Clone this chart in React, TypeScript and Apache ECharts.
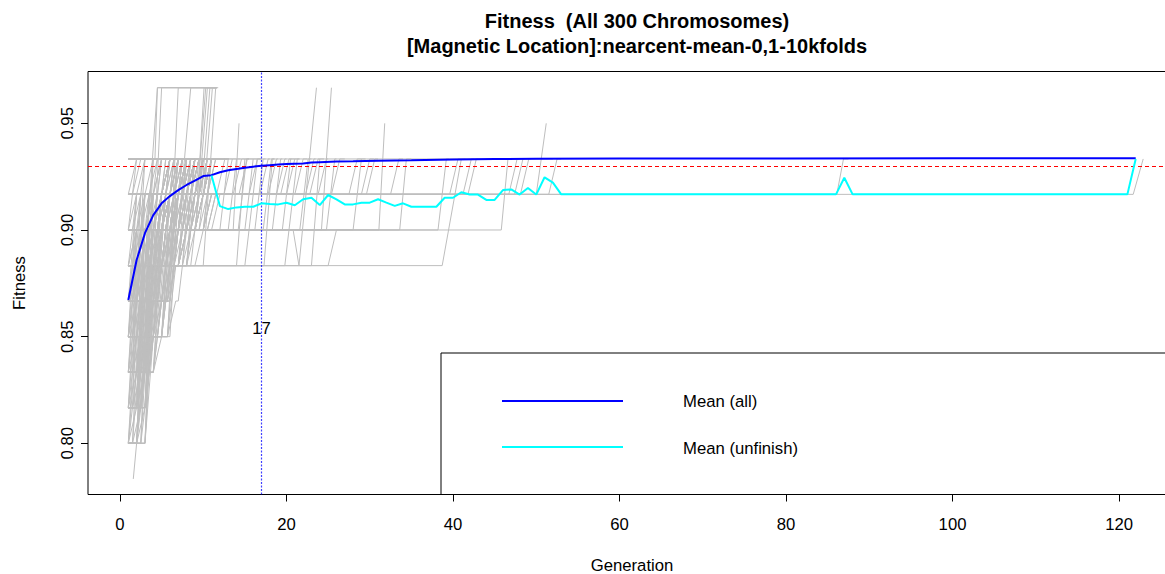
import React, { useEffect, useRef } from "react";
import * as echarts from "echarts";

const FONT = "'Liberation Sans', Arial, Helvetica, sans-serif";

const TITLE_LINES = ["Fitness  (All 300 Chromosomes)", "[Magnetic Location]:nearcent-mean-0,1-10kfolds"];
const X_NAME = "Generation";
const Y_NAME = "Fitness";
const X_TICKS = [0, 20, 40, 60, 80, 100, 120];
const Y_TICKS = [0.8, 0.85, 0.9, 0.95];
const X_RANGE = [-3.84, 126.84];
const Y_RANGE = [0.776, 0.9743];
const THRESHOLD = 0.93;
const MARK_GEN = 17;
const MARK_LABEL_Y = 0.8536;
const LEGEND_NAMES = ["Mean (all)", "Mean (unfinish)"];

// fitness levels observed in the chromosome traces
const LEVELS: Record<string, number> = {
  a: 0.7833, b: 0.8, c: 0.8167, d: 0.8333, e: 0.85, f: 0.8667,
  g: 0.8833, h: 0.9, i: 0.9167, j: 0.9333, k: 0.95, l: 0.9667,
};

// each chromosome: "gen+level" change points (optional /width of the jump), last bare number = end generation
const CHROMOSOMES: string[] = [
  "1.6a 3.2e/1.6 6h 9j 12",
  "1b 3e 5h 8j 12", "1b 2d 4f 6i 12", "1b 3f 6h 9j 11", "1b 4g 6i 10.3l 11.6", "1b 3h 5j 12",
  "1b 2e 4g 7i 10j 13", "1b 4e 6h 9i 12", "1b 3g 7j 11",
  "1b 2c 3e 5g 8i 12", "1b 3d 4g 6h 9j 12", "1b 2f 3h 6i 10j 12", "1b 4f 5h 8i 11", "1b 3c 4e 6g 9i 12",
  "1b 4h 7j 12",
  "1b 2.5e 4.5h 7.5j 12", "1b 3.5f 5.5i 9.5j 12", "1b 2.5g 5.5i 11", "1b 3.5d 4.5g 8.5j 12", "1b 2.5c 3.5f 6.5i 12", "1b 3.5h 6.5j 12",
  "1c 3e 5h 8j 12", "1c 2f 5i 9j 12", "1c 4h 6j 11", "1c 3g 4.5l/1.5 11.6", "1c 4f 6h 10i 12",
  "1c 2d 4g 8j 12", "1c 3h 6i 9j 13", "1c 4e 7i 11",
  "1c 2e 4h 7j 12", "1c 3d 5f 7h 10i 12", "1c 4g 5i 8j 12", "1c 2g 4h 6i 9j 12", "1c 3f 4h 7i 11",
  "1c 3i 6j 12", "1c 4i 9j 12",
  "1c 2.5e 4.5g 6.5i 10.5j 12", "1c 3.5f 5.5h 8.5j 12", "1c 2.5h 5.5j 11", "1c 3.5g 6.5i 12", "1c 2.5d 3.5f 5.5h 9.5i 12", "1c 3.5e 4.5h 7.5j 13",
  "1d 5g 8i 11j 12", "1d 3f 5h 7j 12", "1d 2e 4g 6i 9j 12", "1d 4g 5l 11.6", "1d 5h 8j 12",
  "1d 3e 6i 10j 12", "1d 4f 6g 9i 12", "1d 2g 5i 8j 11", "1d 5f 7h 10j 13", "1d 3g 6h 9i 11",
  "1d 2f 4h 6i 10j 12", "1d 3g 5h 8j 12", "1d 4e 5g 7i 11j 13", "1d 2h 4i 8j 12", "1d 5e 6g 8h 11i 12",
  "1d 3h 5i 9j 12", "1d 4i 7j 11",
  "1d 2.5f 4.5h 7.5j 12", "1d 3.5g 6.5i 10.5j 12", "1d 4.5h 8.5j 12", "1d 2.5e 3.5g 5.5i 12", "1d 3.5h 6.5i 9.5j 12",
  "1d 4.5f 6.5h 10.5i 12", "1d 2.5i 7.5j 12",
  "1e 6.7h 9j 12", "1e 3g 6i 10j 12", "1e 4f 7h 11j 13", "1e 2g 5h 8.5l/1.5 11.6", "1e 5h 7i 10j 12",
  "1e 6.7g 8i 12", "1e 3f 5g 8h 11j 13", "1e 2h 4i 7j 12", "1e 4g 7i 12", "1e 6g 9h 12",
  "1e 5i 9j 11", "1e 3h 6j 11", "1e 6.7f 8h 11i 13", "1e 4h 8i 12",
  "1e 2f 4h 7i 12", "1e 3h 5i 8j 12", "1e 5f 6h 9i 12", "1e 2i 6j 12", "1e 4h 6i 9j 11",
  "1e 3g 4h 7j 12", "1e 6.7i 10j 12", "1e 5g 7h 10i 12", "1e 2g 3h 6i 12", "1e 4j 12",
  "1e 2.5g 4.5i 8.5j 12", "1e 3.5h 5.5i 9.5j 12", "1e 4.5g 6.5h 10.5j 12", "1e 5.5h 8.5i 12", "1e 2.5f 4.5h 6.5i 12",
  "1e 3.5i 7.5j 12", "1e 4.5i 11.5j 13", "1e 5.5g 7.5i 12", "1e 2.5h 5.5j 11",
  "1f 3h 6i 9j 12", "1f 6.7i 9j 12", "1f 2g 5i 8j 11", "1f 4h 7j 12", "1f 5g 8h 12i 13",
  "1f 3g 7l 11.6", "1f 6.7h 10i 12", "1f 4i 8j 12", "1f 2h 6i 11j 13", "1f 5h 9j 12",
  "1f 3i 7j 11", "1f 6.7g 9i 12", "1f 4g 6h 10j 13", "1f 2i 5j 12",
  "1f 2h 4i 9j 12", "1f 3g 5h 8i 12", "1f 5i 8j 11", "1f 4h 6i 12", "1f 2g 3h 7i 10j 12",
  "1f 6.7h 8i 11j 13", "1f 3i 6j 12", "1f 5h 7i 12", "1f 4g 8h 12", "1f 3j 12",
  "1f 2.5h 5.5i 8.5j 12", "1f 3.5g 5.5i 10.5j 12", "1f 4.5h 7.5i 12", "1f 5.5i 9.5j 12", "1f 2.5g 4.5h 8.5i 12",
  "1f 3.5h 6.5j 12", "1f 4.5g 7.5h 11.5i 13", "1f 5.5h 9.5i 12", "1f 2.5i 6.5j 12",
  "1g 41j/2.3 41.5", "1g 4h 7i 10j 12", "1g 3i 8j 12", "1g 5h 9i 12", "1g 2h 6j 11",
  "1g 7i 11j 13", "1g 4j 12", "1g 6h 10.1l 11.6", "1g 3h 8i 12", "1g 5i 9j 12",
  "1g 8h 11i 13", "1g 9j 12", "1g 26h 34.4j/0.8 35", "1g 11.5l/1.5 11.8", "1g 15j 15.5",
  "1g 18.3j 18.6", "1g 24j 24.5", "1g 16.5j/1.5 17", "1g 21.3j/1.5 21.6",
  "1g 2i 7j 12", "1g 3h 6i 11j 12", "1g 4i 10j 12", "1g 6i 12", "1g 2h 5i 12",
  "1g 5h 8i 11j 13", "1g 3i 6j 11", "1g 7h 10i 12", "1g 10h 12",
  "1g 2.5h 4.5i 8.5j 12", "1g 3.5i 9.5j 12", "1g 4.5h 7.5i 12", "1g 5.5i 10.5j 12", "1g 6.5h 9.5i 12",
  "1g 7.5i 12", "1g 8.5h 11.5i 13", "1g 3.5h 6.5j 12", "1g 9.5i 12",
  "1h 45.8h 46.6j/0.8", "1h 20.8h 21.5g/0.7 23.6l/2.1", "1h 25.4l/1.2", "1h 31.8k/0.7", "1h 14.3k/0.7",
  "1h 4i 8j 12", "1h 6j 11", "1h 3i 10.5l 11.6", "1h 7i 12", "1h 5j 12", "1h 9i 11j 13",
  "1h 39.2j 39.5", "1h 14j 14.5", "1h 16j 16.5", "1h 17.2j 17.5", "1h 19.3j 19.5", "1h 20.5j 21",
  "1h 22.6j 23", "1h 25.8j 26", "1h 29j 29.5", "1h 13j 13.5", "1h 15.2j 15.5", "1h 18.2j 18.5",
  "1h 2i 6j 12", "1h 4i 12", "1h 8j 12", "1h 3j 11", "1h 5i 10j 13", "1h 6i 9j 12", "1h 10i 12", "1h 2j 12",
  "1h 2.5i 7.5j 12", "1h 3.5i 10.5j 12", "1h 4.5j 12", "1h 5.5i 8.5j 12", "1h 6.5i 12", "1h 7.5j 12", "1h 8.5i 12", "1h 9.5j 12",
  "1i 122.9j/1.2", "1i 86.9j/0.8 87.5", "1i 4j 12", "1i 7j 11", "1i 10.8l 11.6", "1i 6j 12",
  "1i 9j 13", "1i 51.2k/1.2", "1i 3j 11", "1i 11.1l 11.6", "1i 13.5j 14", "1i 14.6j 15",
  "1i 15.3j 16", "1i 16.5j 17", "1i 17.8j 18", "1i 18.8j 19", "1i 19.8j 20", "1i 21j 21.5",
  "1i 22j 22.5", "1i 23.3j 23.5", "1i 24.8j 25", "1i 26.4j 27", "1i 28.5j 29", "1i 30j 30.5",
  "1i 30.6j 31", "1i 33.5j 34", "1i 40.6j 41", "1i 42.2j 42.5", "1i 42.8j 43", "1i 47.7j 48",
  "1i 48.4j 48.6", "1i 49.1j 49.3", "1i 52.5j 53", "1i 12.6j 13", "1i 20.3j 20.6", "1i 23.8j 24",
  "1i 2j 12", "1i 5j 11", "1i 8j 12", "1i 10j 12", "1i 11j 13",
  "1i 2.5j 12", "1i 4.5j 12", "1i 6.5j 12", "1i 8.5j 12", "1i 9.5j 12", "1i 10.5j 13", "1i 11.5j 12.5",
  "1j 12", "1j 12.3", "1j 52", "1j 4.5l/0.3 11.6", "1j 11", "1j 10", "1j 12.5", "1j 13", "1j 11.5", "1j 12.2",
];

const MEAN_ALL_GEN = [1, 2, 3, 4, 5, 6, 7, 8, 9, 10, 11, 12, 13, 14, 15, 16, 17, 18, 19, 20, 22, 23, 24, 26, 28, 31, 35, 40, 45, 50, 60, 80, 100, 122];
const MEAN_ALL = [0.8672, 0.8859, 0.8985, 0.907, 0.9125, 0.9159, 0.9187, 0.9211, 0.9231, 0.9253, 0.9257, 0.9271, 0.928, 0.9286, 0.9292, 0.9297, 0.9301, 0.9304, 0.9307, 0.9309, 0.9312, 0.9316, 0.9318, 0.9321, 0.9322, 0.9325, 0.9327, 0.9331, 0.9333, 0.9334, 0.9335, 0.9335, 0.9336, 0.9336];

const MEAN_UNF_GEN = [11, 12, 13, 14, 15, 16, 17, 18, 19, 20, 21, 22, 23, 24, 25, 26, 27, 28, 29, 30, 31, 32, 33, 34, 35, 36, 37, 38, 39, 40, 41, 42, 43, 44, 45, 46, 47, 48, 49, 50, 51, 52, 53, 86, 87, 88, 121, 122];
const MEAN_UNF = [0.9255, 0.9112, 0.9098, 0.9106, 0.9109, 0.9109, 0.9125, 0.9122, 0.912, 0.9128, 0.9116, 0.9144, 0.9151, 0.9117, 0.9164, 0.9144, 0.912, 0.912, 0.9128, 0.9128, 0.9144, 0.9128, 0.9113, 0.9125, 0.9109, 0.9109, 0.9109, 0.9109, 0.9151, 0.9151, 0.9177, 0.9166, 0.9166, 0.9141, 0.9141, 0.9187, 0.919, 0.9166, 0.9197, 0.9166, 0.9247, 0.9222, 0.9167, 0.9167, 0.9245, 0.9167, 0.9167, 0.9333];

function parseTrack(s: string): number[][] {
  const pts: number[][] = [];
  for (const tok of s.trim().split(/\s+/)) {
    const m = tok.match(/^([\d.]+)([a-l])(?:\/([\d.]+))?$/);
    if (!m) {
      if (pts.length) pts.push([parseFloat(tok), pts[pts.length - 1][1]]);
      continue;
    }
    const g = parseFloat(m[1]);
    const lv = LEVELS[m[2]];
    const w = m[3] ? parseFloat(m[3]) : 1;
    if (pts.length) {
      const prev = pts[pts.length - 1];
      if (lv !== prev[1] && g - w > prev[0] + 1e-9) pts.push([g - w, prev[1]]);
    }
    pts.push([g, lv]);
  }
  return pts;
}

export default function App() {
  const ref = useRef<HTMLDivElement>(null);
  useEffect(() => {
    if (!ref.current) return;
    const chart = echarts.init(ref.current, undefined, { renderer: "svg" });
    const labelSize = 16.7;
    const grayLines = CHROMOSOMES.map((s) => ({
      type: "line",
      data: parseTrack(s),
      showSymbol: false,
      symbol: "none",
      silent: true,
      lineStyle: { color: "#bebebe", width: 1 },
      z: 1,
    }));
    const option: any = {
      animation: false,
      backgroundColor: "#ffffff",
      textStyle: { fontFamily: FONT },
      title: {
        text: TITLE_LINES.join("\n"),
        left: 632,
        top: 3,
        textAlign: "center",
        textStyle: { fontSize: 20, fontWeight: "bold", color: "#000", lineHeight: 25, fontFamily: FONT },
      },
      grid: {
        left: 88, top: 71.5, width: 1088, height: 423, show: true,
        borderColor: "#000", borderWidth: 1, backgroundColor: "transparent",
        outerBoundsMode: "none", containLabel: false,
      },
      xAxis: {
        type: "value",
        min: X_RANGE[0],
        max: X_RANGE[1],
        name: X_NAME,
        nameLocation: "middle",
        nameGap: 62,
        nameTextStyle: { fontSize: labelSize, color: "#000", fontFamily: FONT },
        axisLine: { show: false, onZero: false },
        splitLine: { show: false },
        axisTick: { show: true, customValues: X_TICKS, length: 7, lineStyle: { color: "#000" } },
        axisLabel: { customValues: X_TICKS, fontSize: labelSize, color: "#000", margin: 21, fontFamily: FONT, formatter: (v: number) => String(v) },
      },
      yAxis: {
        type: "value",
        min: Y_RANGE[0],
        max: Y_RANGE[1],
        name: Y_NAME,
        nameLocation: "middle",
        nameGap: 60,
        nameRotate: 90,
        nameTextStyle: { fontSize: labelSize, color: "#000", fontFamily: FONT },
        axisLine: { show: false, onZero: false },
        splitLine: { show: false },
        axisTick: { show: true, customValues: Y_TICKS, length: 7, lineStyle: { color: "#000" } },
        axisLabel: { customValues: Y_TICKS, rotate: 90, fontSize: labelSize, color: "#000", margin: 12, fontFamily: FONT, formatter: (v: number) => v.toFixed(2) },
      },
      graphic: [
        { type: "rect", shape: { x: 441, y: 353, width: 800, height: 141.5 }, style: { fill: "none", stroke: "#000", lineWidth: 1 }, z: 50 },
        { type: "line", shape: { x1: 502, y1: 401, x2: 623, y2: 401 }, style: { stroke: "#0000ff", lineWidth: 2 }, z: 50 },
        { type: "line", shape: { x1: 502, y1: 447, x2: 623, y2: 447 }, style: { stroke: "#00ffff", lineWidth: 2 }, z: 50 },
        { type: "text", x: 683, y: 401, style: { text: LEGEND_NAMES[0], font: `${labelSize}px ${FONT}`, fill: "#000", textVerticalAlign: "middle" }, z: 50 },
        { type: "text", x: 683, y: 448, style: { text: LEGEND_NAMES[1], font: `${labelSize}px ${FONT}`, fill: "#000", textVerticalAlign: "middle" }, z: 50 },
      ],
      series: [
        ...grayLines,
        {
          type: "line",
          name: "threshold",
          data: [],
          silent: true,
          z: 4,
          markLine: {
            silent: true,
            symbol: ["none", "none"],
            label: { show: false },
            lineStyle: { color: "#ff0000", type: [4, 3], width: 1 },
            data: [{ yAxis: THRESHOLD }],
          },
        },
        {
          type: "line",
          name: "marker",
          data: [[MARK_GEN, Y_RANGE[0]], [MARK_GEN, Y_RANGE[1]]],
          showSymbol: false,
          symbol: "none",
          silent: true,
          z: 4,
          itemStyle: { color: "#0000ff" },
          lineStyle: { color: "#0000ff", type: [2, 1.5], width: 1.2, opacity: 0.75 },
          markPoint: {
            silent: true,
            symbol: "circle",
            symbolSize: 1,
            itemStyle: { color: "transparent" },
            label: { show: true, position: "inside", color: "#000", fontSize: labelSize, fontFamily: FONT, formatter: String(MARK_GEN) },
            data: [{ coord: [MARK_GEN, MARK_LABEL_Y] }],
          },
        },
        {
          type: "line",
          name: LEGEND_NAMES[0],
          data: MEAN_ALL_GEN.map((g, i) => [g, MEAN_ALL[i]]),
          showSymbol: false,
          symbol: "none",
          lineStyle: { color: "#0000ff", width: 2 },
          z: 5,
        },
        {
          type: "line",
          name: LEGEND_NAMES[1],
          data: MEAN_UNF_GEN.map((g, i) => [g, MEAN_UNF[i]]),
          showSymbol: false,
          symbol: "none",
          lineStyle: { color: "#00ffff", width: 2 },
          z: 6,
        },
      ],
    };
    chart.setOption(option);
    return () => chart.dispose();
  }, []);
  return (
    <div
      ref={ref}
      style={{ position: "absolute", left: 0, top: 0, width: 1165, height: 574, background: "#fff" }}
    />
  );
}
